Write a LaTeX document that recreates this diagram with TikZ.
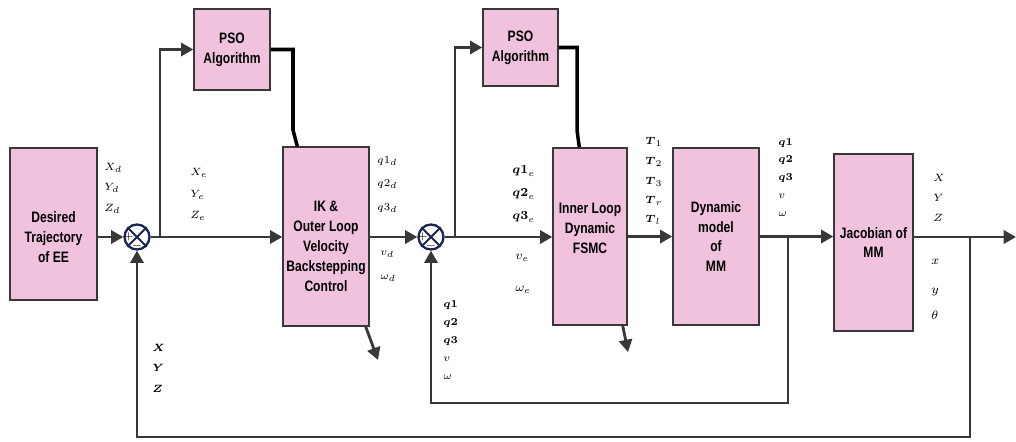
\documentclass[tikz,border=0pt]{standalone}
\usepackage{amsmath}
\usepackage{fontspec}
\newfontfamily\boxfont[FakeStretch=0.8]{Liberation Sans}
\usepackage{tikz}
\usetikzlibrary{arrows.meta,positioning,calc}
\usepackage{xcolor}
\definecolor{boxpink}{HTML}{F0C2DD}
\definecolor{wire}{HTML}{383838}
\definecolor{sumblue}{HTML}{1B2452}

\begin{document}
\begin{tikzpicture}[
x=0.02cm,y=-0.02cm,
box/.style={rectangle,draw=wire,line width=0.8pt,fill=boxpink,align=center,inner sep=1pt,font=\boxfont\bfseries\fontsize{8.6}{11.3}\selectfont},
boxtxt/.style={align=center,inner sep=0pt,font=\boxfont\bfseries\fontsize{8.6}{11.3}\selectfont},
sum/.style={circle,draw=sumblue,line width=1.3pt,minimum size=0.5cm,inner sep=0pt},
arr/.style={-{Triangle[length=7pt,width=7.5pt]},line width=1.6pt,wire},
tune/.style={line width=2pt,black},
sig/.style={font=\fontsize{6}{7}\selectfont,inner sep=0pt,anchor=west},
bigsig/.style={font=\fontsize{7.5}{8}\selectfont,inner sep=0pt,anchor=west},
sgn/.style={font=\fontsize{6.5}{6.5}\selectfont,inner sep=0pt,text=black}
]
\useasboundingbox (0,0) rectangle (1016,442);

\node[box,minimum width=1.74cm,minimum height=3.04cm,label={[boxtxt,yshift=-0.26cm]center:Desired\\Trajectory\\of EE}] (traj) at (53.5,224) {};
\node[sum] (s1) at (137,237) {};
\node[box,minimum width=1.52cm,minimum height=1.62cm] (pso1) at (232,49.5) {PSO\\Algorithm};
\node[box,minimum width=1.72cm,minimum height=3.58cm,label={[boxtxt,yshift=-0.2cm]center:IK \&\\Outer Loop\\Velocity\\Backstepping\\Control}] (ik) at (326,236.5) {};
\node[sum] (s2) at (431,237) {};
\node[box,minimum width=1.5cm,minimum height=1.54cm] (pso2) at (520.5,47.5) {PSO\\Algorithm};
\node[box,minimum width=1.48cm,minimum height=3.54cm,label={[boxtxt,yshift=0.16cm]center:Inner Loop\\Dynamic\\FSMC}] (fsmc) at (590,236.5) {};
\node[box,minimum width=1.72cm,minimum height=3.54cm] (dm) at (716,236.5) {Dynamic\\model\\of\\MM};
\node[box,minimum width=1.58cm,minimum height=3.54cm] (jac) at (873.5,242.5) {Jacobian of\\MM};

\draw[sumblue,line width=1.1pt] (s1.north west) -- (s1.south east) (s1.north east) -- (s1.south west);
\draw[sumblue,line width=1.1pt] (s2.north west) -- (s2.south east) (s2.north east) -- (s2.south west);
\node[sgn] (p1) at ([xshift=-0.17cm]s1.center) {$+$};
\node[sgn] (m1) at ([yshift=-0.18cm]s1.center) {$-$};
\node[sgn] (p2) at ([xshift=-0.17cm]s2.center) {$+$};
\node[sgn] (m2) at ([yshift=-0.18cm]s2.center) {$-$};

\coordinate (b1) at (160,237);
\coordinate (b2) at (455,237);
\coordinate (b3) at (788,237);
\coordinate (b4) at (970,237);
\coordinate (c3) at (788,403);
\coordinate (c4) at (970,437);
\coordinate (k1) at (293,130);
\coordinate (k2) at (577,130);
\coordinate (o1) at (378,360);
\coordinate (o2) at (628,352);
\coordinate (out) at (1016,237);

\draw[arr] (traj.east |- s1) -- (s1.west);
\draw[arr] (s1.east) -- (ik.west |- s1);
\draw[arr] (b1) |- (pso1.west);
\draw[tune] (pso1.east) -| (k1) -- ([xshift=0.3cm]ik.north west);
\draw[arr] ([xshift=-0.08cm]ik.south east) -- (o1);
\draw[arr] (ik.east |- s2) -- (s2.west);
\draw[arr] (s2.east) -- (fsmc.west |- s2);
\draw[arr] (b2) |- (pso2.west);
\draw[tune] (pso2.east) -| (k2) -- ([xshift=0.54cm]fsmc.north west);
\draw[arr] ([xshift=-0.1cm]fsmc.south east) -- (o2);
\draw[arr] (fsmc.east) -- (dm.west);
\draw[arr] (dm.east) -- (dm.east -| jac.west);
\draw[arr] (b3) -- (c3) -| (s2.south);
\draw[arr] (jac.east |- out) -- (out);
\draw[arr] (b4) -- (c4) -| (s1.south);

\node[sig] (xd) at (104,168) {$X_d$};
\node[sig] (yd) at (104,188) {$Y_d$};
\node[sig] (zd) at (104,209) {$Z_d$};
\node[sig] (xe) at (190,173) {$X_e$};
\node[sig] (ye) at (190,195) {$Y_e$};
\node[sig] (ze) at (190,216) {$Z_e$};
\node[sig] (q1d) at (377,161) {$q1_d$};
\node[sig] (q2d) at (377,184) {$q2_d$};
\node[sig] (q3d) at (377,208) {$q3_d$};
\node[sig] (vd) at (380,254) {$v_d$};
\node[sig] (wd) at (380,278) {$\omega_d$};
\node[bigsig] (q1e) at (512,171) {$\boldsymbol{q1}_e$};
\node[bigsig] (q2e) at (512,194) {$\boldsymbol{q2}_e$};
\node[bigsig] (q3e) at (512,217) {$\boldsymbol{q3}_e$};
\node[bigsig] (ve) at (515,258) {$v_e$};
\node[bigsig] (we) at (515,290) {$\omega_e$};
\node[sig] (fq1) at (443,305) {$\boldsymbol{q1}$};
\node[sig] (fq2) at (443,323) {$\boldsymbol{q2}$};
\node[sig] (fq3) at (443,341) {$\boldsymbol{q3}$};
\node[sig] (fv) at (443,359) {$v$};
\node[sig] (fw) at (443,377) {$\omega$};
\node[sig] (t1) at (645,142) {$\boldsymbol{T}_1$};
\node[sig] (t2) at (645,162) {$\boldsymbol{T}_2$};
\node[sig] (t3) at (645,182) {$\boldsymbol{T}_3$};
\node[sig] (tr) at (645,201) {$\boldsymbol{T}_r$};
\node[sig] (tl) at (645,220) {$\boldsymbol{T}_l$};
\node[sig] (q1) at (778,143) {$\boldsymbol{q1}$};
\node[sig] (q2) at (778,160) {$\boldsymbol{q2}$};
\node[sig] (q3) at (778,178) {$\boldsymbol{q3}$};
\node[sig] (v) at (778,196) {$v$};
\node[sig] (w) at (778,214) {$\omega$};
\node[sig] (px) at (933,178) {$X$};
\node[sig] (py) at (933,198) {$Y$};
\node[sig] (pz) at (933,218) {$Z$};
\node[bigsig] (rx) at (931,262) {$x$};
\node[bigsig] (ry) at (931,292) {$y$};
\node[bigsig] (rth) at (931,315) {$\theta$};
\node[sig] (fx) at (152,348) {$\boldsymbol{X}$};
\node[sig] (fy) at (152,368) {$\boldsymbol{Y}$};
\node[sig] (fz) at (152,389) {$\boldsymbol{Z}$};
\end{tikzpicture}
\end{document}
